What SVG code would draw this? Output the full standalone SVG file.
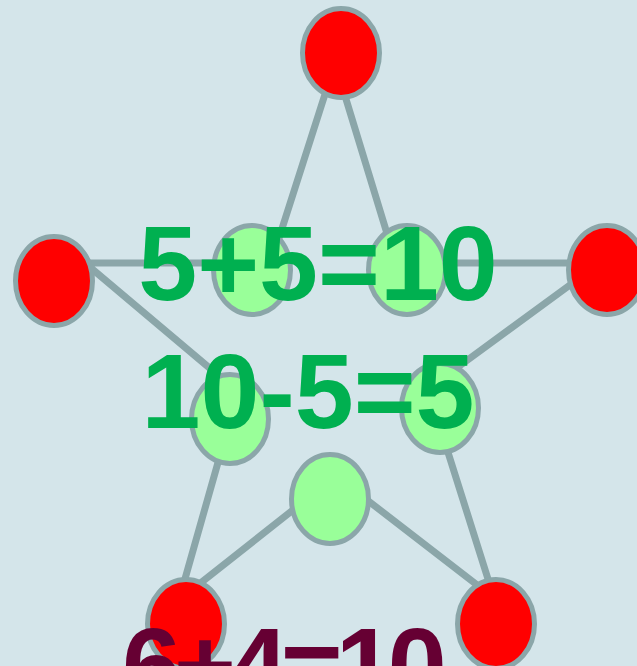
<svg xmlns="http://www.w3.org/2000/svg" width="637" height="666" viewBox="0 0 637 666">
<style>
.bg{fill:#d4e5ea}
.ln{stroke:#8ba6a9;stroke-width:7;fill:none;stroke-linejoin:round}
.red{fill:#ff0000;stroke:#8ba6a9;stroke-width:5}
.grn{fill:#99ff99;stroke:#8ba6a9;stroke-width:5}
.t{font-family:"Liberation Sans",Arial,sans-serif;font-weight:bold;font-size:106px;text-anchor:middle}
.g{fill:#00b050}
.m{fill:#660033;text-anchor:start;letter-spacing:-7px}
</style>
<rect class="bg" x="0" y="0" width="637" height="666"/>
<g id="connectors">
<polyline class="ln" points="335,63 271,263 85,263 238,392 179,600 336,476 494,598 428,389 600,263 396,263 335,63"/>
</g>
<g id="n-top"><ellipse class="red" cx="341" cy="53" rx="38.5" ry="44.5"/></g>
<g id="n-left"><ellipse class="red" cx="54" cy="281" rx="38.5" ry="44.5"/></g>
<g id="n-right"><ellipse class="red" cx="607" cy="270" rx="38.5" ry="44.5"/></g>
<g id="n-bottom-left"><ellipse class="red" cx="186" cy="624" rx="38.5" ry="44.5"/></g>
<g id="n-bottom-right"><ellipse class="red" cx="496" cy="624" rx="38.5" ry="44.5"/></g>
<g id="n-inner-ul"><ellipse class="grn" cx="252" cy="270" rx="38.5" ry="44.5"/></g>
<g id="n-inner-ur"><ellipse class="grn" cx="407" cy="270" rx="38.5" ry="44.5"/></g>
<g id="n-inner-ll"><ellipse class="grn" cx="230" cy="419" rx="38.5" ry="44.5"/></g>
<g id="n-inner-lr"><ellipse class="grn" cx="440" cy="408" rx="38.5" ry="44.5"/></g>
<g id="n-inner-b"><ellipse class="grn" cx="330" cy="499" rx="38.5" ry="44.5"/></g>
<g id="labels">
<text class="t g" x="318" y="300">5+5=10</text>
<text class="t g" x="308" y="428">10-5=5</text>
<text class="t m" x="122" y="702">6+4=10</text>
</g>
</svg>
